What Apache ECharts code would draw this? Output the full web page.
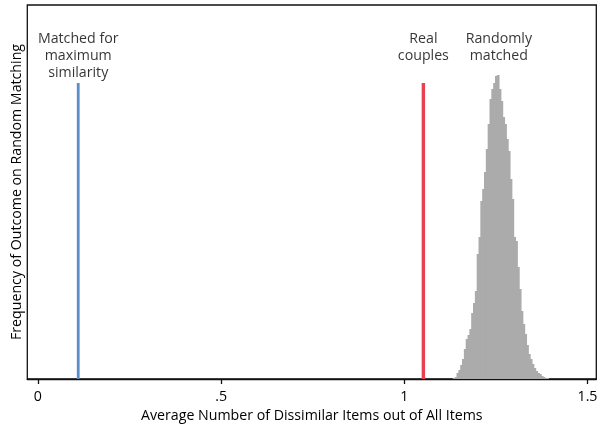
<!DOCTYPE html>
<html>
<head>
<meta charset="utf-8">
<script src="https://cdn.jsdelivr.net/npm/echarts@6/dist/echarts.min.js"></script>
<style>html,body{margin:0;padding:0;background:#fff}#c{width:601px;height:424px}</style>
</head>
<body>
<div id="c"></div>
<script>
// Histogram of randomly matched couples (bin centers and heights)
const binCenters = [1.135,1.140,1.145,1.150,1.155,1.160,1.165,1.170,1.175,1.180,1.185,1.190,1.195,1.200,1.205,1.210,1.215,1.220,1.225,1.230,1.235,1.240,1.245,1.250,1.255,1.260,1.265,1.270,1.275,1.280,1.285,1.290,1.295,1.300,1.305,1.310,1.315,1.320,1.325,1.330,1.335,1.340,1.345,1.350,1.355,1.360,1.365,1.370,1.375,1.380,1.385,1.390];
const binCounts = [1,2,6,9,14,20,30,40,44,50,66,76,88,125,142,178,190,207,230,255,280,290,296,303,304,290,278,262,255,240,228,200,180,142,138,112,90,68,55,45,34,25,20,15,11,8,6,5,3,2,1,1];
const binWidth = 0.005;
// Reference lines
const maxSimilarityValue = 0.110;
const realCouplesValue = 1.052;
const lineHeightValue = 296;
// Annotations
const annotX = [0.110, 1.052, 1.258];
const annotText = ['Matched for\nmaximum\nsimilarity', 'Real\ncouples', 'Randomly\nmatched'];
const annotY = 349;
// Tick labels
const xTicks = [0, 0.5, 1, 1.5];
const xTickLabels = ['0', '.5', '1', '1.5'];

const FONT = 'Open Sans';
const TXT = '#000';
const FS = 14.2;
const chart = echarts.init(document.getElementById('c'));
chart.setOption({
  animation: false,
  grid: {left: 27.3, right: 4.7, top: 5, bottom: 45, show: true, borderColor: '#111', borderWidth: 1.3,
    outerBoundsMode: 'none', containLabel: false},
  xAxis: {
    type: 'value', min: -0.029, max: 1.524,
    splitLine: {show: false},
    axisLine: {show: true, onZero: false, lineStyle: {color: '#111', width: 1.3}},
    axisTick: {show: true, customValues: xTicks, length: 5, lineStyle: {color: '#111', width: 1.3}},
    axisLabel: {customValues: xTicks, margin: 11, color: TXT, fontSize: FS, fontFamily: FONT,
      formatter: v => xTickLabels[xTicks.indexOf(v)] ?? ''},
    name: 'Average Number of Dissimilar Items out of All Items',
    nameLocation: 'middle', nameGap: 27,
    nameTextStyle: {color: TXT, fontSize: FS, fontFamily: FONT}
  },
  yAxis: {
    type: 'value', min: 0, max: 374,
    splitLine: {show: false}, axisTick: {show: false}, axisLabel: {show: false},
    axisLine: {show: false, onZero: false},
    name: 'Frequency of Outcome on Random Matching',
    nameLocation: 'middle', nameGap: 3,
    nameTextStyle: {color: TXT, fontSize: FS, fontFamily: FONT}
  },
  series: [
    {
      type: 'custom',
      data: binCenters.map((c, i) => [c, binCounts[i]]),
      renderItem: function (params, api) {
        const x = api.value(0), h = api.value(1);
        const p0 = api.coord([x - binWidth / 2, h]);
        const p1 = api.coord([x + binWidth / 2, 0]);
        return {type: 'rect', shape: {x: p0[0], y: p0[1], width: p1[0] - p0[0] + 0.9, height: p1[1] - p0[1]},
          style: {fill: '#ababab', stroke: null}};
      }
    },
    {
      type: 'line', symbol: 'none',
      data: [[maxSimilarityValue, 0], [maxSimilarityValue, lineHeightValue]],
      lineStyle: {color: '#5b8fc7', width: 2.8}
    },
    {
      type: 'line', symbol: 'none',
      data: [[realCouplesValue, 0], [realCouplesValue, lineHeightValue]],
      lineStyle: {color: '#e8404f', width: 3.4}
    },
    {
      type: 'scatter', symbolSize: 0,
      data: annotX.map((x, i) => ({value: [x, annotY], label: {formatter: annotText[i]}})),
      label: {show: true, position: 'bottom', distance: 0, color: TXT, fontSize: FS,
        lineHeight: 17, fontFamily: FONT, align: 'center'}
    }
  ]
});
</script>
</body>
</html>
